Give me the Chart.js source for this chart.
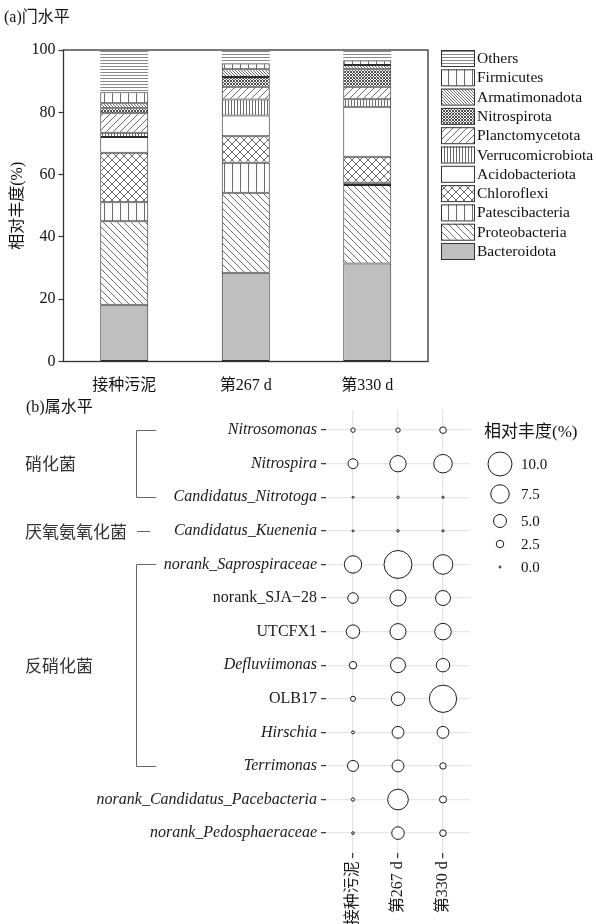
<!DOCTYPE html>
<html>
<head>
<meta charset="utf-8">
<script src="https://cdn.jsdelivr.net/npm/chart.js@4/dist/chart.umd.min.js"></script>
<style>
  html, body { margin: 0; padding: 0; background: #fff; }
  #wrap { position: relative; width: 596px; height: 924px; overflow: hidden; }
  #phylum { position: absolute; left: 0; top: 0; }
  #genus { position: absolute; left: 0; top: 395px; }
</style>
</head>
<body>
<div id="wrap">
  <canvas id="phylum" width="596" height="395"></canvas>
  <canvas id="genus" width="596" height="529"></canvas>
</div>
<script>
// ---------- data: phylum level (%) ----------
const sampleLabels = ['接种污泥', '第267 d', '第330 d'];
const yTicks = [0, 20, 40, 60, 80, 100];

const bacteroidota      = [18.2, 28.5, 31.5];
const proteobacteria    = [26.8, 25.7, 25.2];
const patescibacteria   = [6.1, 9.6, 0.7];
const chloroflexi       = [15.9, 8.5, 8.3];
const acidobacteriota   = [5.1, 6.7, 16.1];
const verrucomicrobiota = [1.3, 5.1, 2.4];
const planctomycetota   = [6.3, 4.1, 4.0];
const nitrospirota      = [1.6, 3.1, 5.6];
const armatimonadota    = [1.6, 2.5, 1.4];
const firmicutes        = [3.5, 1.9, 1.4];
const others            = [13.6, 4.3, 3.4];

// ---------- data: genus level (%) ----------
const genera = [
  'Nitrosomonas', 'Nitrospira', 'Candidatus_Nitrotoga', 'Candidatus_Kuenenia',
  'norank_Saprospiraceae', 'norank_SJA\u221228', 'UTCFX1', 'Defluviimonas', 'OLB17',
  'Hirschia', 'Terrimonas', 'norank_Candidatus_Pacebacteria', 'norank_Pedosphaeraceae'
];
const seedSludge = [1.1, 3.6, 0.0, 0.0, 7.0, 3.9, 5.2, 2.5, 1.4, 0.4, 4.1, 0.6, 0.3];
const day267     = [1.1, 6.5, 0.2, 0.2, 11.8, 6.4, 6.4, 5.9, 5.2, 4.5, 4.5, 8.5, 4.8];
const day330     = [2.1, 7.5, 0.1, 0.1, 8.0, 5.9, 6.6, 5.2, 11.5, 4.5, 2.0, 2.3, 2.1];
const sizeBreaks = [10.0, 7.5, 5.0, 2.5, 0.0];

// functional groups (first / last genus row of each)
const groupNames = ['硝化菌', '厌氧氨氧化菌', '反硝化菌'];
const groupFirst = [0, 3, 4];
const groupLast  = [2, 3, 10];

// genus names shown upright (the rest are italic)
const uprightGenera = ['norank_SJA\u221228', 'UTCFX1', 'OLB17'];

// ---------- styling helpers ----------
const SERIF = '"Liberation Serif", "Noto Sans CJK SC", serif';
const CJK = '"Noto Sans CJK SC", "Liberation Serif", sans-serif';

function makePattern(w, h, draw, width) {
  const c = document.createElement('canvas');
  c.width = w; c.height = h;
  const g = c.getContext('2d');
  g.fillStyle = '#fff';
  g.fillRect(0, 0, w, h);
  g.strokeStyle = '#3a3a3a';
  g.lineWidth = width || 0.75;
  draw(g, w, h);
  return g.createPattern(c, 'repeat');
}
const hLines = s => makePattern(s, s, g => { g.beginPath(); g.moveTo(0, 0.5); g.lineTo(s, 0.5); g.stroke(); }, 0.6);
const vLines = s => makePattern(s, s, g => { g.beginPath(); g.moveTo(0.5, 0); g.lineTo(0.5, s); g.stroke(); });
function diagLines(s, back, fwd, width) {
  return makePattern(s, s, g => {
    g.beginPath();
    for (let k = -1; k <= 1; k++) {
      if (back) { g.moveTo(k * s, 0); g.lineTo(k * s + s, s); }
      if (fwd)  { g.moveTo(k * s, s); g.lineTo(k * s + s, 0); }
    }
    g.stroke();
  }, width);
}

const phylumSeries = [
  { label: 'Bacteroidota',      data: bacteroidota,      fill: '#bfbfbf' },
  { label: 'Proteobacteria',    data: proteobacteria,    fill: diagLines(7, true, false) },
  { label: 'Patescibacteria',   data: patescibacteria,   fill: vLines(8) },
  { label: 'Chloroflexi',       data: chloroflexi,       fill: diagLines(8, true, true) },
  { label: 'Acidobacteriota',   data: acidobacteriota,   fill: '#ffffff' },
  { label: 'Verrucomicrobiota', data: verrucomicrobiota, fill: vLines(3) },
  { label: 'Planctomycetota',   data: planctomycetota,   fill: diagLines(7, false, true) },
  { label: 'Nitrospirota',      data: nitrospirota,      fill: diagLines(3, true, true, 0.9) },
  { label: 'Armatimonadota',    data: armatimonadota,    fill: diagLines(3, true, false) },
  { label: 'Firmicutes',        data: firmicutes,        fill: vLines(8) },
  { label: 'Others',            data: others,            fill: hLines(3) }
];

// ---------- plugins: phylum chart ----------
const phylumDecor = {
  id: 'phylumDecor',
  afterDraw(chart) {
    const ctx = chart.ctx;
    const a = chart.chartArea;
    ctx.save();
    // frame
    ctx.strokeStyle = '#333';
    ctx.lineWidth = 1.3;
    ctx.strokeRect(a.left, a.top, a.right - a.left, a.bottom - a.top);
    // panel title
    ctx.fillStyle = '#111';
    ctx.font = '16px ' + SERIF;
    ctx.textBaseline = 'middle';
    ctx.textAlign = 'left';
    ctx.fillText('(a)门水平', 4, 18);
    // y axis title
    ctx.save();
    ctx.translate(18, (a.top + a.bottom) / 2);
    ctx.rotate(-Math.PI / 2);
    ctx.textAlign = 'center';
    ctx.fillText('相对丰度(%)', 0, 0);
    ctx.restore();
    // legend (top = last stacked series)
    const ds = chart.data.datasets;
    ctx.font = '15.5px ' + SERIF;
    for (let i = 0; i < ds.length; i++) {
      const d = ds[ds.length - 1 - i];
      const y = 50 + i * 19.3;
      ctx.fillStyle = d.backgroundColor;
      ctx.fillRect(441, y, 33, 16);
      ctx.strokeStyle = '#333';
      ctx.lineWidth = 1;
      ctx.strokeRect(441.5, y + 0.5, 33, 16);
      ctx.fillStyle = '#111';
      ctx.fillText(d.label, 477, y + 9);
    }
    ctx.restore();
  }
};

new Chart(document.getElementById('phylum'), {
  type: 'bar',
  data: {
    labels: sampleLabels,
    datasets: phylumSeries.map(s => ({
      label: s.label,
      data: s.data,
      backgroundColor: s.fill,
      borderColor: '#2b2b2b',
      borderWidth: s.label === 'Others' ? 0 : 1,
      borderSkipped: false,
      barPercentage: 0.395,
      categoryPercentage: 1
    }))
  },
  options: {
    responsive: false,
    animation: false,
    events: [],
    layout: { padding: { top: 50, right: 168, left: 0, bottom: 0 } },
    plugins: { legend: { display: false }, tooltip: { enabled: false } },
    scales: {
      x: {
        stacked: true,
        grid: { display: false },
        border: { display: false },
        ticks: { font: { family: SERIF, size: 16 }, color: '#111', padding: 7 },
        afterFit(s) { s.height = 33.5; }
      },
      y: {
        stacked: true,
        min: yTicks[0],
        max: yTicks[yTicks.length - 1],
        afterBuildTicks(s) { s.ticks = yTicks.map(v => ({ value: v })); },
        ticks: { font: { family: SERIF, size: 16 }, color: '#111', padding: 3 },
        grid: { drawOnChartArea: false, drawTicks: true, tickLength: 5, tickColor: '#333', tickWidth: 1.2 },
        border: { display: false },
        afterFit(s) { s.width = 63.5; }
      }
    }
  },
  plugins: [phylumDecor]
});

// ---------- genus bubble chart ----------
const sizeOf = v => 1 + 1.1 * v;   // radius in px, linear in abundance

const abundance = [seedSludge, day267, day330];
const bubblePoints = [];
abundance.forEach((arr, col) => arr.forEach((v, row) => bubblePoints.push({ x: col, y: row, v: v })));

const genusDecor = {
  id: 'genusDecor',
  afterDraw(chart) {
    const ctx = chart.ctx;
    const ys = chart.scales.y;
    ctx.save();
    // panel title
    ctx.fillStyle = '#111';
    ctx.textBaseline = 'middle';
    ctx.textAlign = 'left';
    ctx.font = '16px ' + SERIF;
    ctx.fillText('(b)属水平', 26, 13);
    // group brackets and names
    ctx.strokeStyle = '#666';
    ctx.lineWidth = 1;
    ctx.font = '17px ' + CJK;
    ctx.fillStyle = '#333';
    groupNames.forEach((name, i) => {
      const y0 = Math.round(ys.getPixelForValue(groupFirst[i])) + 0.5;
      const y1 = Math.round(ys.getPixelForValue(groupLast[i])) + 0.5;
      ctx.beginPath();
      if (groupFirst[i] === groupLast[i]) {
        ctx.moveTo(137, y0); ctx.lineTo(150, y0);
      } else {
        ctx.moveTo(156, y0); ctx.lineTo(136.5, y0); ctx.lineTo(136.5, y1); ctx.lineTo(156, y1);
      }
      ctx.stroke();
      ctx.fillText(name, 25, (y0 + y1) / 2);
    });
    // size legend
    ctx.fillStyle = '#111';
    ctx.font = '17px ' + SERIF;
    ctx.fillText('相对丰度(%)', 484, 38);
    const legendY = [69, 99, 126, 149, 172];
    ctx.font = '15px ' + SERIF;
    sizeBreaks.forEach((v, i) => {
      ctx.beginPath();
      ctx.arc(500, legendY[i], sizeOf(v), 0, Math.PI * 2);
      ctx.fillStyle = '#fff';
      ctx.fill();
      ctx.strokeStyle = '#1a1a1a';
      ctx.lineWidth = 1;
      ctx.stroke();
      ctx.fillStyle = '#111';
      ctx.fillText(v.toFixed(1), 521, legendY[i] + 1);
    });
    ctx.restore();
  }
};

new Chart(document.getElementById('genus'), {
  type: 'bubble',
  data: {
    datasets: [{
      data: bubblePoints,
      radius: ctx => sizeOf(ctx.raw.v),
      backgroundColor: '#fff',
      borderColor: '#1a1a1a',
      borderWidth: 1
    }]
  },
  options: {
    responsive: false,
    animation: false,
    events: [],
    layout: { padding: { top: 12.75, right: 126, left: 0, bottom: 0 } },
    plugins: { legend: { display: false }, tooltip: { enabled: false } },
    scales: {
      x: {
        type: 'linear',
        min: -0.6,
        max: sampleLabels.length - 0.4,
        afterBuildTicks(s) { s.ticks = sampleLabels.map((_, i) => ({ value: i })); },
        ticks: {
          callback: v => sampleLabels[v],
          autoSkip: false,
          minRotation: 90,
          maxRotation: 90,
          font: { family: SERIF, size: 16 },
          color: '#1a1a1a',
          padding: 3
        },
        grid: { color: '#e6e6e6', lineWidth: 1.3, tickColor: '#333', tickLength: 5, tickWidth: 1.2 },
        border: { display: false },
        afterFit(s) { s.height = 70.75; }
      },
      y: {
        type: 'linear',
        reverse: true,
        min: -0.6,
        max: genera.length - 0.4,
        afterBuildTicks(s) { s.ticks = genera.map((_, i) => ({ value: i })); },
        ticks: {
          callback: v => genera[v],
          autoSkip: false,
          font: ctx => ({
            family: SERIF,
            size: 16,
            style: uprightGenera.includes(genera[ctx.index]) ? 'normal' : 'italic'
          }),
          color: '#1a1a1a',
          padding: 4
        },
        grid: { color: '#e6e6e6', lineWidth: 1.3, tickColor: '#333', tickLength: 5, tickWidth: 1.2 },
        border: { display: false },
        afterFit(s) { s.width = 326; }
      }
    }
  },
  plugins: [genusDecor]
});
</script>
</body>
</html>
